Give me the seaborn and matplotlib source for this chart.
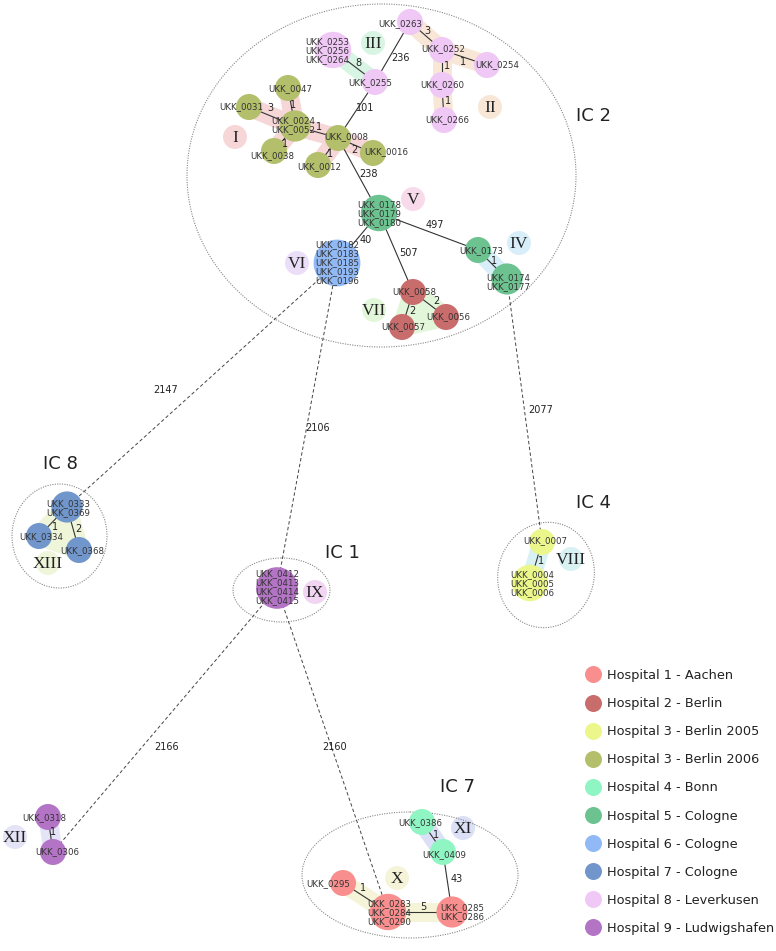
import matplotlib.pyplot as plt
import matplotlib.patches as mpatches
from matplotlib.lines import Line2D
import seaborn as sns
import pandas as pd

sns.set_theme(style="white")
plt.rcParams['font.family'] = ['DejaVu Sans']

# ---- data ----
hospitals = ["Hospital 1 - Aachen", "Hospital 2 - Berlin", "Hospital 3 - Berlin 2005",
             "Hospital 3 - Berlin 2006", "Hospital 4 - Bonn", "Hospital 5 - Cologne",
             "Hospital 6 - Cologne", "Hospital 7 - Cologne", "Hospital 8 - Leverkusen",
             "Hospital 9 - Ludwigshafen"]
hospital_colors = ["#f98e8e", "#c96c6c", "#ebf78b", "#b3bf6a", "#8ff5c2",
                   "#6dc390", "#91b9f6", "#7196cb", "#f0c8f6", "#b474c6"]

node_ids = ["0263", "0252", "0254", "0260", "0266", "0253", "0255", "0047", "0031",
            "0024", "0038", "0008", "0016", "0012", "0178", "0182", "0173", "0174",
            "0058", "0057", "0056", "0333", "0334", "0368", "0007", "0004", "0412",
            "0318", "0306", "0386", "0409", "0295", "0283", "0285"]
node_isolates = [["UKK_0263"], ["UKK_0252"], ["UKK_0254"], ["UKK_0260"], ["UKK_0266"],
                 ["UKK_0253", "UKK_0256", "UKK_0264"], ["UKK_0255"], ["UKK_0047"],
                 ["UKK_0031"], ["UKK_0024", "UKK_0052"], ["UKK_0038"], ["UKK_0008"],
                 ["UKK_0016"], ["UKK_0012"], ["UKK_0178", "UKK_0179", "UKK_0180"],
                 ["UKK_0182", "UKK_0183", "UKK_0185", "UKK_0193", "UKK_0196"],
                 ["UKK_0173"], ["UKK_0174", "UKK_0177"], ["UKK_0058"], ["UKK_0057"],
                 ["UKK_0056"], ["UKK_0333", "UKK_0369"], ["UKK_0334"], ["UKK_0368"],
                 ["UKK_0007"], ["UKK_0004", "UKK_0005", "UKK_0006"],
                 ["UKK_0412", "UKK_0413", "UKK_0414", "UKK_0415"], ["UKK_0318"],
                 ["UKK_0306"], ["UKK_0386"], ["UKK_0409"], ["UKK_0295"],
                 ["UKK_0283", "UKK_0284", "UKK_0290"], ["UKK_0285", "UKK_0286"]]
node_hospital = [8, 8, 8, 8, 8, 8, 8, 3.6, 3.6, 3.6, 3.6, 3.6, 3.6, 3.6, 5, 6, 5, 5,
                 2, 2, 2, 7, 7, 7, 3.5, 3.5, 9, 9, 9, 4, 4, 1, 1, 1]
hosp_key = {1: 0, 2: 1, 3.5: 2, 3.6: 3, 4: 4, 5: 5, 6: 6, 7: 7, 8: 8, 9: 9}

# allele differences within complexes
edge_src = ["0263", "0263", "0252", "0252", "0260", "0253", "0255", "0047", "0031",
            "0024", "0024", "0008", "0008", "0008", "0178", "0178", "0178", "0173",
            "0058", "0058", "0333", "0333", "0007", "0318", "0386", "0409", "0295", "0283"]
edge_dst = ["0255", "0252", "0254", "0260", "0266", "0255", "0008", "0024", "0024",
            "0008", "0038", "0012", "0016", "0178", "0182", "0173", "0058", "0174",
            "0057", "0056", "0334", "0368", "0004", "0306", "0409", "0285", "0283", "0285"]
edge_diff = [236, 3, 1, 1, 1, 8, 101, 1, 3, 1, 1, 1, 2, 238, 40, 497, 507, 1,
             2, 2, 1, 2, 1, 1, 1, 43, 1, 5]

# differences between complexes (dashed)
link_src = ["0182", "0182", "0174", "0412", "0412"]
link_dst = ["0333", "0412", "0007", "0306", "0283"]
link_diff = [2147, 2106, 2077, 2166, 2160]

complexes = ["IC 2", "IC 8", "IC 4", "IC 1", "IC 7"]

groups = ["I", "II", "III", "IV", "V", "VI", "VII", "VIII", "IX", "X", "XI", "XII", "XIII"]
group_members = [["0031-0024", "0047-0024", "0024-0038", "0024-0008", "0008-0016", "0008-0012"],
                 ["0263-0252", "0252-0254", "0252-0260", "0260-0266"],
                 ["0253-0255"], ["0173-0174"], [], [], ["0058-0057", "0058-0056"],
                 ["0007-0004"], [], ["0295-0283", "0283-0285"], ["0386-0409"],
                 ["0318-0306"], ["0333-0334", "0333-0368"]]
group_filled = [["0058", "0057", "0056"], ["0333", "0334", "0368"]]
group_filled_idx = [6, 12]
group_colors = ["#f7d6d7", "#f8e7d7", "#d8f4e3", "#d8eef9", "#f8dbea", "#ebdef8",
                "#e2f6da", "#d8f2f4", "#f2d4f3", "#f6f4d8", "#dce0f6", "#e5e3f6", "#eef5d8"]

# ---- layout (pixel space of the original drawing) ----
node_xy = {"0263": (410, 22), "0252": (442, 50), "0254": (487, 65), "0260": (442, 85),
           "0266": (444, 120), "0253": (333, 50), "0255": (375, 82), "0047": (288, 88),
           "0031": (249, 107), "0024": (295, 126), "0038": (274, 151), "0008": (338, 138),
           "0016": (373, 153), "0012": (318, 165), "0178": (379, 213), "0182": (337, 263),
           "0173": (478, 250), "0174": (507, 279), "0058": (413, 292), "0057": (402, 327),
           "0056": (446, 317), "0333": (67, 507), "0334": (39, 536), "0368": (79, 550),
           "0007": (542, 542), "0004": (530, 583), "0412": (277, 588), "0318": (48, 817),
           "0306": (53, 852), "0386": (422, 822), "0409": (443, 852), "0295": (343, 883),
           "0283": (388, 912), "0285": (452, 912)}
label_xy = {"0263": (400, 24), "0252": (443, 49), "0254": (497, 65), "0260": (442, 85),
            "0266": (447, 120), "0253": (327, 51), "0255": (370, 83), "0047": (290, 89),
            "0031": (241, 107), "0024": (293, 125), "0038": (272, 156), "0008": (346, 137),
            "0016": (386, 152), "0012": (319, 167), "0178": (379, 214), "0182": (337, 263),
            "0173": (481, 251), "0174": (508, 282), "0058": (414, 292), "0057": (403, 327),
            "0056": (448, 317), "0333": (68, 508), "0334": (41, 537), "0368": (82, 551),
            "0007": (545, 541), "0004": (532, 584), "0412": (277, 587), "0318": (44, 818),
            "0306": (57, 852), "0386": (420, 823), "0409": (444, 855), "0295": (328, 884),
            "0283": (389, 913), "0285": (462, 912)}
edge_label_xy = [(400, 58), (427, 31), (463, 62), (447, 66), (448, 101), (358, 63),
                 (365, 108), (293, 105), (270, 108), (319, 127), (285, 144), (330, 154),
                 (354, 150), (369, 174), (366, 240), (435, 225), (409, 253), (494, 261),
                 (412, 311), (436, 301), (55, 527), (78, 529), (541, 561), (53, 832),
                 (436, 835), (457, 879), (363, 888), (423, 907)]
link_label_xy = [(166, 390), (318, 428), (541, 410), (167, 747), (335, 747)]
complex_ellipse = [((381.5, 175.5), 389, 343, 0), ((59.5, 536), 95, 104, 0),
                   ((546, 575), 96, 106, 15), ((281.5, 590), 97, 64, 0),
                   ((410, 875), 216, 126, 0)]
complex_title_xy = [(593, 116), (60, 464), (593, 503), (342, 553), (458, 787)]
group_xy = [(235, 137), (490, 107), (373, 43), (519, 243), (413, 199), (297, 263),
            (374, 310), (571, 559), (315, 592), (397, 878), (463, 828), (15, 837), (48, 563)]

W, H = 776, 951
fig = plt.figure(figsize=(W / 100, H / 100), dpi=100)
ax = fig.add_axes([0, 0, 1, 1])
ax.set_xlim(0, W)
ax.set_ylim(H, 0)
ax.axis('off')

PX = 0.72  # points per pixel


def marker_area(radius_px):
    return (2 * radius_px * PX) ** 2


# hulls of the clonal groups
for members, col in zip(group_members, group_colors):
    for pair in members:
        a, b = pair.split("-")
        (x1, y1), (x2, y2) = node_xy[a], node_xy[b]
        ax.plot([x1, x2], [y1, y2], color=col, lw=19 * PX, solid_capstyle='round', zorder=1)
for members, gi in zip(group_filled, group_filled_idx):
    ax.add_patch(mpatches.Polygon([node_xy[m] for m in members], closed=True,
                                  fc=group_colors[gi], ec=group_colors[gi], lw=19 * PX,
                                  joinstyle='round', zorder=1))

gdf = pd.DataFrame({"x": [p[0] for p in group_xy], "y": [p[1] for p in group_xy],
                    "g": groups})
sns.scatterplot(data=gdf, x="x", y="y", hue="g", palette=dict(zip(groups, group_colors)),
                s=marker_area(12), linewidth=0, legend=False, ax=ax, zorder=1.5)
for g, (x, y) in zip(groups, group_xy):
    ax.text(x, y + 1, g, ha='center', va='center', fontsize=12.5,
            family='Liberation Serif', color='#222222', zorder=6)

# complex outlines
for (c, w, h, ang), name, (tx, ty) in zip(complex_ellipse, complexes, complex_title_xy):
    ax.add_patch(mpatches.Ellipse(c, w, h, angle=ang, fill=False, ls=(0, (1, 1.2)),
                                  ec='#888888', lw=0.8, zorder=1.6))
    ax.text(tx, ty, name, ha='center', va='center', fontsize=13, color='#222222')

# links between complexes
for a, b, d, (lx, ly) in zip(link_src, link_dst, link_diff, link_label_xy):
    (x1, y1), (x2, y2) = node_xy[a], node_xy[b]
    ax.plot([x1, x2], [y1, y2], color='#444444', lw=0.7, ls=(0, (3.5, 2.5)), zorder=2)
    ax.text(lx, ly, str(d), ha='center', va='center', fontsize=7, color='#222222')

# edges within complexes
for a, b in zip(edge_src, edge_dst):
    (x1, y1), (x2, y2) = node_xy[a], node_xy[b]
    ax.plot([x1, x2], [y1, y2], color='#333333', lw=0.8, zorder=2)

# nodes
ndf = pd.DataFrame({"x": [node_xy[n][0] for n in node_ids],
                    "y": [node_xy[n][1] for n in node_ids],
                    "hospital": [hospitals[hosp_key[h]] for h in node_hospital],
                    "n": [len(iso) for iso in node_isolates]})
sizes = [marker_area(13 + 2.6 * (k - 1)) for k in ndf["n"]]
sns.scatterplot(data=ndf, x="x", y="y", hue="hospital",
                palette=dict(zip(hospitals, hospital_colors)), s=sizes,
                linewidth=0, legend=False, ax=ax, zorder=3)

for n, iso in zip(node_ids, node_isolates):
    lx, ly = label_xy[n]
    ax.text(lx, ly, "\n".join(iso), ha='center', va='center', fontsize=6.2,
            linespacing=1.0, color='#333333', zorder=5)

for d, (lx, ly) in zip(edge_diff, edge_label_xy):
    ax.text(lx, ly, str(d), ha='center', va='center', fontsize=7, color='#222222', zorder=5)

# legend
handles = [Line2D([], [], marker='o', ls='', markersize=17 * PX, markerfacecolor=c,
                  markeredgewidth=0) for c in hospital_colors]
ax.legend(handles, hospitals, loc='upper left', bbox_to_anchor=(585 / W, 1 - 669 / H),
          frameon=False, fontsize=9.3, handlelength=1.2, handletextpad=0.5,
          labelspacing=1.17, borderpad=0, borderaxespad=0, labelcolor='#222222')

fig.savefig("out.png", dpi=100)
